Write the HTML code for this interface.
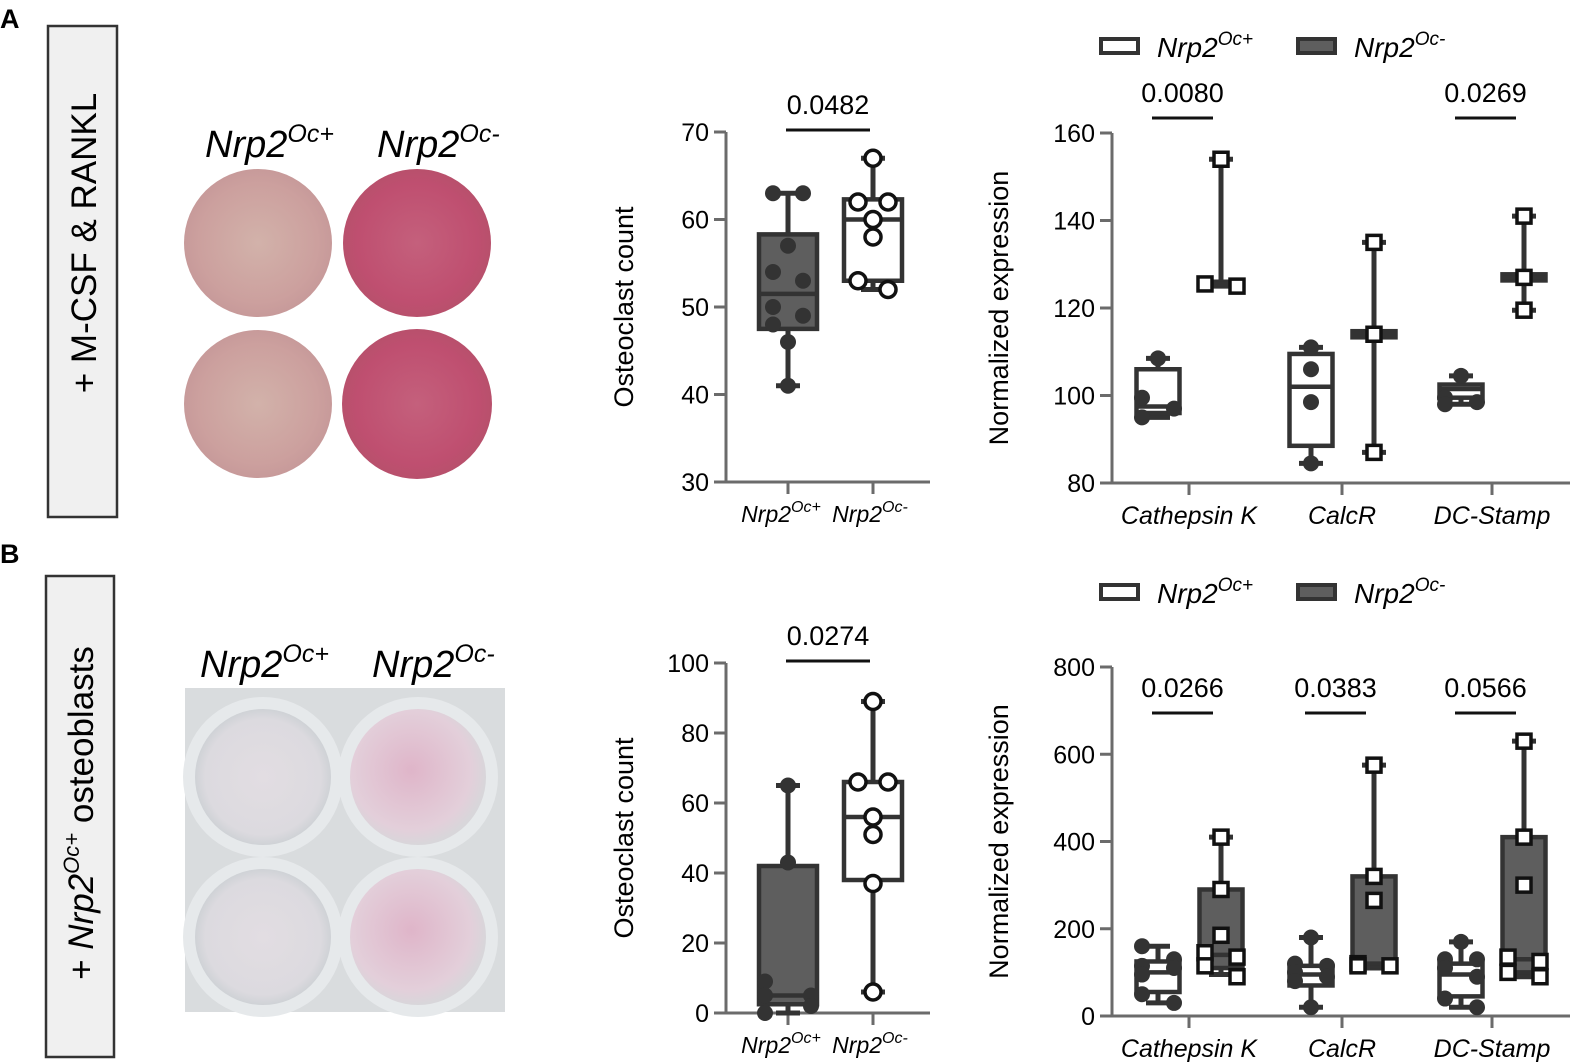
<!DOCTYPE html>
<html><head><meta charset="utf-8">
<style>
html,body{margin:0;padding:0;background:#fff;}
body{width:1579px;height:1064px;overflow:hidden;position:relative;font-family:"Liberation Sans",sans-serif;}
svg{position:absolute;left:0;top:0;}
</style></head>
<body>
<svg id="fig" width="1579" height="1064" viewBox="0 0 1579 1064" xmlns="http://www.w3.org/2000/svg">
<defs>
<radialGradient id="gPlus" cx="50%" cy="50%" r="50%">
<stop offset="0" stop-color="#d2b2aa"/><stop offset="0.8" stop-color="#cca09e"/><stop offset="1" stop-color="#c79a9a"/>
</radialGradient>
<radialGradient id="gMinus" cx="50%" cy="50%" r="50%">
<stop offset="0" stop-color="#c4607c"/><stop offset="0.8" stop-color="#bf4f70"/><stop offset="1" stop-color="#b8506c"/>
</radialGradient>
<radialGradient id="wPlus" cx="50%" cy="50%" r="50%">
<stop offset="0" stop-color="#e2dde2"/><stop offset="0.85" stop-color="#dcdadf"/><stop offset="1" stop-color="#cfd2d6"/>
</radialGradient>
<radialGradient id="wMinus" cx="45%" cy="45%" r="55%">
<stop offset="0" stop-color="#dfb5c9"/><stop offset="0.8" stop-color="#e3cfda"/><stop offset="1" stop-color="#d8d6da"/>
</radialGradient>
</defs>

<text x="0" y="28" font-size="27" font-weight="bold">A</text>
<text x="0" y="563" font-size="27" font-weight="bold">B</text>

<g>
<rect x="48" y="26" width="69" height="491" fill="#f0f0f0" stroke="#333" stroke-width="2.5"/>
<text transform="translate(96,243) rotate(-90)" text-anchor="middle" font-size="35">+ M-CSF &amp; RANKL</text>
</g>
<g>
<rect x="46" y="576" width="68" height="481" fill="#f0f0f0" stroke="#333" stroke-width="2.5"/>
<text transform="translate(93,813) rotate(-90)" text-anchor="middle" font-size="35">+ <tspan font-style="italic">Nrp2</tspan><tspan font-style="italic" font-size="22" dy="-14">Oc+</tspan><tspan dy="14"> osteoblasts</tspan></text>
</g>

<g>
<text x="205" y="157" font-size="38" font-style="italic">Nrp2<tspan font-size="25" dy="-15">Oc+</tspan></text>
<text x="377" y="157" font-size="38" font-style="italic">Nrp2<tspan font-size="25" dy="-15">Oc-</tspan></text>
<circle cx="258" cy="243" r="74" fill="url(#gPlus)"/>
<circle cx="417" cy="243" r="74" fill="url(#gMinus)"/>
<circle cx="258" cy="404" r="74" fill="url(#gPlus)"/>
<circle cx="417" cy="404" r="75" fill="url(#gMinus)"/>
</g>

<g>
<text x="200" y="677" font-size="38" font-style="italic">Nrp2<tspan font-size="25" dy="-15">Oc+</tspan></text>
<text x="372" y="677" font-size="38" font-style="italic">Nrp2<tspan font-size="25" dy="-15">Oc-</tspan></text>
<rect x="185" y="688" width="320" height="324" fill="#d9dcde"/>
<circle cx="263" cy="777" r="80" fill="#e6e9eb"/>
<circle cx="418" cy="777" r="80" fill="#e6e9eb"/>
<circle cx="263" cy="937" r="80" fill="#e6e9eb"/>
<circle cx="418" cy="937" r="80" fill="#e6e9eb"/>
<circle cx="263" cy="777" r="68" fill="url(#wPlus)"/>
<circle cx="418" cy="777" r="68" fill="url(#wMinus)"/>
<circle cx="263" cy="937" r="68" fill="url(#wPlus)"/>
<circle cx="418" cy="937" r="68" fill="url(#wMinus)"/>
</g>

<g id="charts"></g>
</svg>

<script>
const countGroups = ["Nrp2Oc+", "Nrp2Oc-"];
const countTicksA = [30, 40, 50, 60, 70];
const countPointsA_plus = [63, 63, 57, 54, 53, 50, 49, 48, 46, 41];
const countPointsA_minus = [67, 62, 62, 60, 58, 53, 52];
const countBoxA_plus = [41, 47.5, 51.5, 58.3, 63];
const countBoxA_minus = [52, 53, 60, 62.3, 67];
const countPvalA = "0.0482";

const countTicksB = [0, 20, 40, 60, 80, 100];
const countPointsB_plus = [65, 43, 9, 5, 5, 2, 0];
const countPointsB_minus = [89, 66, 66, 56, 51, 37, 6];
const countBoxB_plus = [0, 2.5, 5, 42, 65];
const countBoxB_minus = [6, 38, 56, 66, 89];
const countPvalB = "0.0274";

const genes = ["Cathepsin K", "CalcR", "DC-Stamp"];
const exprTicksA = [80, 100, 120, 140, 160];
const exprPointsA_plus = [[108.5, 99.5, 97, 95], [111, 106, 98.5, 84.5], [104.5, 99.5, 98, 98.5]];
const exprPointsA_minus = [[154, 125, 125.5], [135, 114, 87], [141, 127, 119.5]];
const exprBoxA_plus = [[95, 96, 97.5, 106, 108.5], [84.5, 88.5, 102, 109.5, 111], [98, 99.5, 101.5, 102.5, 104.5]];
const exprBoxA_minus = [[125, 125, 125.5, 126, 154], [87, 113.3, 114, 114.7, 135], [119.5, 126.3, 127, 127.7, 141]];
const exprPvalsA = ["0.0080", "", "0.0269"];

const exprTicksB = [0, 200, 400, 600, 800];
const exprPointsB_plus = [[160, 130, 115, 110, 95, 50, 30], [180, 120, 115, 100, 90, 80, 20], [170, 130, 130, 110, 90, 40, 20]];
const exprPointsB_minus = [[410, 290, 185, 145, 135, 115, 90], [575, 320, 265, 115, 120, 115], [630, 410, 300, 135, 125, 100, 90]];
const exprBoxB_plus = [[30, 55, 100, 125, 160], [20, 70, 95, 115, 180], [20, 45, 95, 120, 170]];
const exprBoxB_minus = [[95, 110, 140, 290, 410], [110, 115, 120, 320, 575], [90, 100, 130, 410, 630]];
const exprPvalsB = ["0.0266", "0.0383", "0.0566"];

const NS = "http://www.w3.org/2000/svg";
const root = document.getElementById("charts");
const DARK = "#333333", FILL = "#5e5e5e", AX = "#6b6b6b";
function mk(tag, attrs, parent) {
  const e = document.createElementNS(NS, tag);
  for (const k in attrs) e.setAttribute(k, attrs[k]);
  (parent || root).appendChild(e);
  return e;
}
function scale(d0, d1, r0, r1) { return v => r0 + (v - d0) * (r1 - r0) / (d1 - d0); }

function axes(g, x0, xEnd, yTop, yBot, ticks, y, title, titleX) {
  const ax = mk("line", {x1: x0, y1: yTop, x2: x0, y2: yBot, stroke: AX, "stroke-width": 3}, g);
  
  
  const xa = mk("line", {x1: x0 - 12, y1: yBot, x2: xEnd, y2: yBot, stroke: AX, "stroke-width": 3}, g);
  
  
  ticks.forEach(t => {
    mk("line", {x1: x0 - 12, y1: y(t), x2: x0, y2: y(t), stroke: AX, "stroke-width": 3}, g);
    const tl = mk("text", {x: x0 - 17, y: y(t) + 9, "text-anchor": "end", "font-size": 25}, g);
    tl.textContent = t;
    
    
  });
  const tt = mk("text", {transform: `translate(${titleX},${(yTop + yBot) / 2}) rotate(-90)`, "text-anchor": "middle", "font-size": 27}, g);
  tt.textContent = title;
  
  
}

function box(g, cx, w, b, y, filled, name) {
  const bg = mk("g", {}, g);
  
  
  mk("line", {x1: cx, y1: y(b[4]), x2: cx, y2: y(b[0]), stroke: DARK, "stroke-width": 5}, bg);
  mk("line", {x1: cx - 12, y1: y(b[4]), x2: cx + 12, y2: y(b[4]), stroke: DARK, "stroke-width": 5}, bg);
  mk("line", {x1: cx - 12, y1: y(b[0]), x2: cx + 12, y2: y(b[0]), stroke: DARK, "stroke-width": 5}, bg);
  const top = y(b[3]), bot = y(b[1]);
  mk("rect", {x: cx - w / 2, y: top, width: w, height: Math.max(bot - top, 2), fill: filled ? FILL : "#fff", stroke: DARK, "stroke-width": 4.5}, bg);
  mk("line", {x1: cx - w / 2, y1: y(b[2]), x2: cx + w / 2, y2: y(b[2]), stroke: DARK, "stroke-width": 4.5}, bg);
}

function offsets(vals, y, spread) {
  // cluster points closer than 15px vertically; singletons centered, clusters alternate -/+
  const idx = vals.map((v, i) => i).sort((a, b) => y(vals[a]) - y(vals[b]));
  const offs = new Array(vals.length).fill(0);
  let cluster = [idx[0]];
  const flush = () => {
    if (cluster.length > 1) cluster.forEach((k, j) => { offs[k] = (j % 2 ? spread : -spread); });
  };
  for (let i = 1; i < idx.length; i++) {
    if (Math.abs(y(vals[idx[i]]) - y(vals[idx[i - 1]])) < 15) cluster.push(idx[i]);
    else { flush(); cluster = [idx[i]]; }
  }
  flush();
  return offs;
}

function points(g, cx, vals, y, shape, spread, name) {
  const offs = offsets(vals, y, spread);
  vals.forEach((v, i) => {
    let p;
    if (shape === "dot") p = mk("circle", {cx: cx + offs[i], cy: y(v), r: 8, fill: DARK}, g);
    else if (shape === "ring") p = mk("circle", {cx: cx + offs[i], cy: y(v), r: 8, fill: "#fff", stroke: "#111", "stroke-width": 3.5}, g);
    else p = mk("rect", {x: cx + offs[i] - 7, y: y(v) - 7, width: 14, height: 14, fill: "#fff", stroke: "#111", "stroke-width": 3.5}, g);
    
    
  });
}

function pbar(g, x1, x2, yy, label) {
  if (!label) return;
  const l = mk("line", {x1: x1, y1: yy, x2: x2, y2: yy, stroke: "#111", "stroke-width": 3}, g);
  
  
  const t = mk("text", {x: (x1 + x2) / 2, y: yy - 16, "text-anchor": "middle", "font-size": 27}, g);
  t.textContent = label;
  
  
}

function groupLabel(g, x, yy, sup) {
  const t = mk("text", {x: x, y: yy, "text-anchor": "middle", "font-size": 23, "font-style": "italic"}, g);
  t.innerHTML = `Nrp2<tspan font-size="16" dy="-10">${sup}</tspan>`;
  
  
}

function countChart(name, yTop, yBot, ticks, bp, bm, pp, pm, pval, spreadP) {
  const g = mk("g", {});
  
  
  const y = scale(ticks[0], ticks[ticks.length - 1], yBot, yTop);
  const x0 = 726, xs = [788, 873];
  axes(g, x0, 930, yTop, yBot, ticks, y, "Osteoclast count", 633);
  xs.forEach(x => mk("line", {x1: x, y1: yBot, x2: x, y2: yBot + 12, stroke: AX, "stroke-width": 3}, g));
  box(g, xs[0], 58, bp, y, true, "box-nrp2-oc-plus");
  box(g, xs[1], 58, bm, y, false, "box-nrp2-oc-minus");
  points(g, xs[0], pp, y, "dot", spreadP, "point-nrp2-oc-plus");
  points(g, xs[1], pm, y, "ring", 15, "point-nrp2-oc-minus");
  pbar(g, 786, 870, yTop - 2, pval);
  groupLabel(g, 781, yBot + 40, "Oc+");
  groupLabel(g, 870, yBot + 40, "Oc-");
}

function exprChart(name, yTop, yBot, ticks, boxP, boxM, ptsP, ptsM, pvals, pY, legendY) {
  const g = mk("g", {});
  
  
  const y = scale(ticks[0], ticks[ticks.length - 1], yBot, yTop);
  const x0 = 1112, xs = [1189, 1342, 1492];
  axes(g, x0, 1570, yTop, yBot, ticks, y, "Normalized expression", 1008);
  genes.forEach((gn, i) => {
    mk("line", {x1: xs[i], y1: yBot, x2: xs[i], y2: yBot + 12, stroke: AX, "stroke-width": 3}, g);
    const t = mk("text", {x: xs[i], y: yBot + 41, "text-anchor": "middle", "font-size": 25, "font-style": "italic"}, g);
    t.textContent = gn;
    
    
    box(g, xs[i] - 31, 43, boxP[i], y, false, "box-nrp2-oc-plus");
    box(g, xs[i] + 32, 43, boxM[i], y, true, "box-nrp2-oc-minus");
    points(g, xs[i] - 31, ptsP[i], y, "dot", 16, "point-nrp2-oc-plus");
    points(g, xs[i] + 32, ptsM[i], y, "square", 16, "point-nrp2-oc-minus");
    pbar(g, xs[i] - 37, xs[i] + 24, pY, pvals[i]);
  });
  const lg = mk("g", {}, g);
  
  
  mk("rect", {x: 1101, y: legendY - 7, width: 37, height: 14, fill: "#fff", stroke: DARK, "stroke-width": 4}, lg);
  const t1 = mk("text", {x: 1157, y: legendY + 11, "font-size": 28, "font-style": "italic"}, lg);
  t1.innerHTML = 'Nrp2<tspan font-size="19" dy="-12">Oc+</tspan>';
  mk("rect", {x: 1298, y: legendY - 7, width: 37, height: 14, fill: FILL, stroke: DARK, "stroke-width": 4}, lg);
  const t2 = mk("text", {x: 1354, y: legendY + 11, "font-size": 28, "font-style": "italic"}, lg);
  t2.innerHTML = 'Nrp2<tspan font-size="19" dy="-12">Oc-</tspan>';
}

countChart("osteoclast-count-chart-a", 132, 482, countTicksA, countBoxA_plus, countBoxA_minus, countPointsA_plus, countPointsA_minus, countPvalA, 15);
countChart("osteoclast-count-chart-b", 663, 1013, countTicksB, countBoxB_plus, countBoxB_minus, countPointsB_plus, countPointsB_minus, countPvalB, 23);
exprChart("expression-chart-a", 133, 483, exprTicksA, exprBoxA_plus, exprBoxA_minus, exprPointsA_plus, exprPointsA_minus, exprPvalsA, 118, 46);
exprChart("expression-chart-b", 667, 1016, exprTicksB, exprBoxB_plus, exprBoxB_minus, exprPointsB_plus, exprPointsB_minus, exprPvalsB, 713, 592);
</script>
</body></html>
